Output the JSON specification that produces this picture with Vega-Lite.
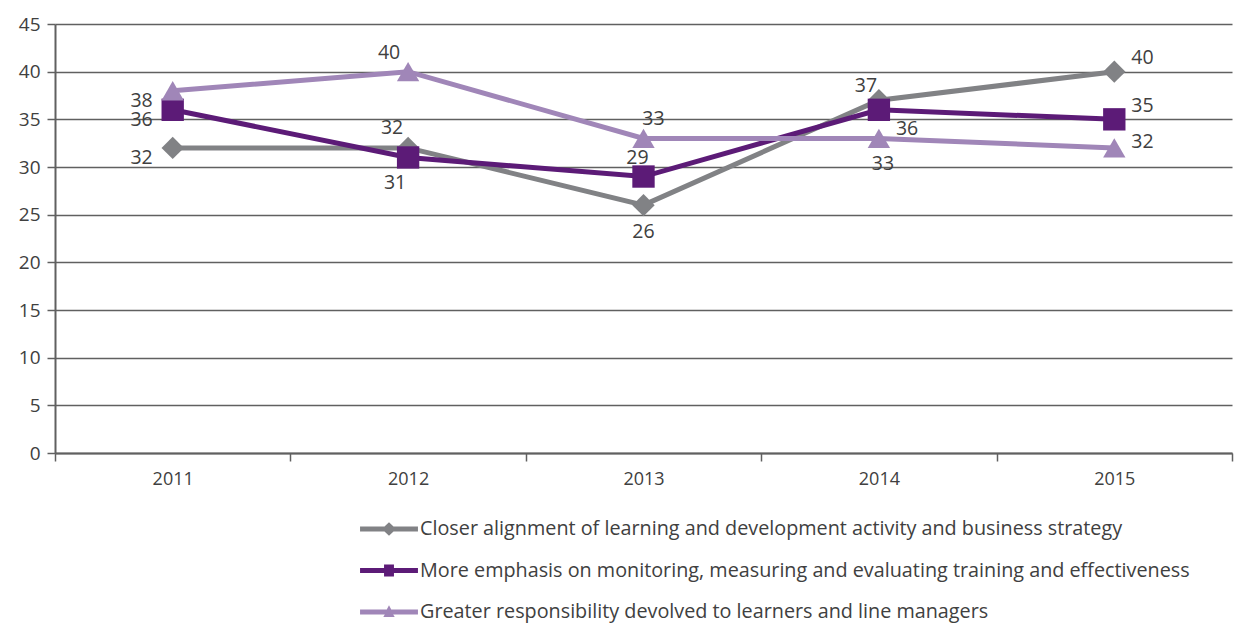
{
  "$schema": "https://vega.github.io/schema/vega-lite/v6.json",
  "width": 1177,
  "height": 429,
  "autosize": {"type": "none"},
  "padding": {"left": 55, "top": 24, "right": 2, "bottom": 171},
  "background": "white",
  "config": {
    "view": {"stroke": null},
    "font": "Open Sans",
    "axis": {"labelFont": "Open Sans", "labelColor": "#404040"},
    "legend": {"labelFont": "Open Sans"},
    "text": {"font": "Open Sans"}
  },
  "data": {
    "values": [
      {"series": "Closer alignment of learning and development activity and business strategy", "year": "2011", "value": 32},
      {"series": "Closer alignment of learning and development activity and business strategy", "year": "2012", "value": 32},
      {"series": "Closer alignment of learning and development activity and business strategy", "year": "2013", "value": 26},
      {"series": "Closer alignment of learning and development activity and business strategy", "year": "2014", "value": 37},
      {"series": "Closer alignment of learning and development activity and business strategy", "year": "2015", "value": 40},
      {"series": "More emphasis on monitoring, measuring and evaluating training and effectiveness", "year": "2011", "value": 36},
      {"series": "More emphasis on monitoring, measuring and evaluating training and effectiveness", "year": "2012", "value": 31},
      {"series": "More emphasis on monitoring, measuring and evaluating training and effectiveness", "year": "2013", "value": 29},
      {"series": "More emphasis on monitoring, measuring and evaluating training and effectiveness", "year": "2014", "value": 36},
      {"series": "More emphasis on monitoring, measuring and evaluating training and effectiveness", "year": "2015", "value": 35},
      {"series": "Greater responsibility devolved to learners and line managers", "year": "2011", "value": 38},
      {"series": "Greater responsibility devolved to learners and line managers", "year": "2012", "value": 40},
      {"series": "Greater responsibility devolved to learners and line managers", "year": "2013", "value": 33},
      {"series": "Greater responsibility devolved to learners and line managers", "year": "2014", "value": 33},
      {"series": "Greater responsibility devolved to learners and line managers", "year": "2015", "value": 32}
    ]
  },
  "encoding": {
    "x": {
      "field": "year", "type": "ordinal",
      "scale": {"paddingInner": 0, "paddingOuter": 0},
      "axis": {
        "title": null, "labelAngle": 0, "tickBand": "extent", "tickSize": 8,
        "tickColor": "#606060", "tickWidth": 1.5, "domainColor": "#606060", "domainWidth": 2,
        "labelFontSize": 18, "labelPadding": 9, "grid": false
      }
    },
    "y": {
      "field": "value", "type": "quantitative",
      "scale": {"domain": [0, 45], "nice": false},
      "axis": {
        "title": null, "values": [0, 5, 10, 15, 20, 25, 30, 35, 40, 45],
        "grid": true, "gridColor": "#606060", "gridWidth": 1.5,
        "domain": true, "domainColor": "#606060", "domainWidth": 2,
        "tickSize": 8, "tickColor": "#606060", "tickWidth": 1.5,
        "labelFontSize": 19, "labelPadding": 7
      }
    }
  },
  "resolve": {"scale": {"shape": "independent", "color": "independent"}},
  "layer": [
    {
      "transform": [{"filter": "false"}],
      "mark": {"type": "point", "filled": true, "opacity": 1, "size": 900, "strokeWidth": 0},
      "encoding": {
        "color": {
          "field": "series", "type": "nominal",
          "scale": {
            "domain": ["Closer alignment of learning and development activity and business strategy", "More emphasis on monitoring, measuring and evaluating training and effectiveness", "Greater responsibility devolved to learners and line managers"],
            "range": ["#818285", "#5c1b77", "#a086b8"]
          },
          "legend": {
            "title": null, "orient": "none", "legendX": 319, "legendY": 490,
            "direction": "vertical", "symbolSize": 900, "symbolStrokeWidth": 0,
            "labelFontSize": 19.8, "labelColor": "#404040", "labelOffset": 16,
            "rowPadding": 16.5, "labelLimit": 1000
          }
        },
        "shape": {
          "field": "series", "type": "nominal",
          "scale": {
            "domain": ["Closer alignment of learning and development activity and business strategy", "More emphasis on monitoring, measuring and evaluating training and effectiveness", "Greater responsibility devolved to learners and line managers"],
            "range": [
              "M-1.93,-0.17H-0.3L0,-0.45L0.3,-0.17H1.93V0.17H0.3L0,0.45L-0.3,0.17H-1.93Z",
              "M-1.93,-0.17H-0.33V-0.4H0.33V-0.17H1.93V0.17H0.33V0.4H-0.33V0.17H-1.93Z",
              "M-1.93,-0.17H-0.15L0,-0.45L0.15,-0.17H1.93V0.17H0.28L0.38,0.33H-0.38L-0.28,0.17H-1.93Z"
            ]
          },
          "legend": {
            "title": null, "orient": "none", "legendX": 319, "legendY": 490,
            "direction": "vertical", "symbolSize": 900, "symbolStrokeWidth": 0,
            "labelFontSize": 19.8, "labelColor": "#404040", "labelOffset": 16,
            "rowPadding": 16.5, "labelLimit": 1000
          }
        }
      }
    },
    {
      "mark": {"type": "line", "strokeWidth": 5},
      "encoding": {
        "color": {
          "field": "series", "type": "nominal", "legend": null,
          "scale": {
            "domain": ["Closer alignment of learning and development activity and business strategy", "More emphasis on monitoring, measuring and evaluating training and effectiveness", "Greater responsibility devolved to learners and line managers"],
            "range": ["#818285", "#5c1b77", "#a086b8"]
          }
        }
      }
    },
    {
      "mark": {"type": "point", "filled": true, "opacity": 1, "size": 500},
      "encoding": {
        "color": {
          "field": "series", "type": "nominal", "legend": null,
          "scale": {
            "domain": ["Closer alignment of learning and development activity and business strategy", "More emphasis on monitoring, measuring and evaluating training and effectiveness", "Greater responsibility devolved to learners and line managers"],
            "range": ["#818285", "#5c1b77", "#a086b8"]
          }
        },
        "shape": {
          "field": "series", "type": "nominal", "legend": null,
          "scale": {
            "domain": ["Closer alignment of learning and development activity and business strategy", "More emphasis on monitoring, measuring and evaluating training and effectiveness", "Greater responsibility devolved to learners and line managers"],
            "range": ["diamond", "square", "triangle-up"]
          }
        }
      }
    },
    {
      "transform": [{"filter": "datum.year === '2011'"}],
      "mark": {"type": "text", "fontSize": 19.5, "color": "#404040", "align": "right", "baseline": "middle", "dx": -20, "dy": 10},
      "encoding": {"text": {"field": "value", "type": "quantitative"}}
    },
    {
      "transform": [{"filter": "datum.year === '2015' && datum.value === 40"}],
      "mark": {"type": "text", "fontSize": 19.5, "color": "#404040", "align": "left", "baseline": "middle", "dx": 17, "dy": -14},
      "encoding": {"text": {"field": "value", "type": "quantitative"}}
    },
    {
      "transform": [{"filter": "datum.year === '2015' && datum.value === 35"}],
      "mark": {"type": "text", "fontSize": 19.5, "color": "#404040", "align": "left", "baseline": "middle", "dx": 17, "dy": -13},
      "encoding": {"text": {"field": "value", "type": "quantitative"}}
    },
    {
      "transform": [{"filter": "datum.year === '2015' && datum.value === 32"}],
      "mark": {"type": "text", "fontSize": 19.5, "color": "#404040", "align": "left", "baseline": "middle", "dx": 17, "dy": -6},
      "encoding": {"text": {"field": "value", "type": "quantitative"}}
    },
    {
      "transform": [{"filter": "datum.year === '2014' && datum.value === 36"}],
      "mark": {"type": "text", "fontSize": 19.5, "color": "#404040", "align": "left", "baseline": "middle", "dx": 17, "dy": 19},
      "encoding": {"text": {"field": "value", "type": "quantitative"}}
    },
    {
      "transform": [{"filter": "datum.year === '2014' && datum.value === 37"}],
      "mark": {"type": "text", "fontSize": 19.5, "color": "#404040", "align": "center", "baseline": "middle", "dx": -13, "dy": -14},
      "encoding": {"text": {"field": "value", "type": "quantitative"}}
    },
    {
      "transform": [{"filter": "datum.year === '2014' && datum.value === 33"}],
      "mark": {"type": "text", "fontSize": 19.5, "color": "#404040", "align": "center", "baseline": "middle", "dx": 4, "dy": 26},
      "encoding": {"text": {"field": "value", "type": "quantitative"}}
    },
    {
      "transform": [{"filter": "datum.year === '2013' && datum.value === 26"}],
      "mark": {"type": "text", "fontSize": 19.5, "color": "#404040", "align": "center", "baseline": "middle", "dx": 0, "dy": 27},
      "encoding": {"text": {"field": "value", "type": "quantitative"}}
    },
    {
      "transform": [{"filter": "datum.year === '2013' && datum.value === 29"}],
      "mark": {"type": "text", "fontSize": 19.5, "color": "#404040", "align": "center", "baseline": "middle", "dx": -6, "dy": -19},
      "encoding": {"text": {"field": "value", "type": "quantitative"}}
    },
    {
      "transform": [{"filter": "datum.year === '2013' && datum.value === 33"}],
      "mark": {"type": "text", "fontSize": 19.5, "color": "#404040", "align": "center", "baseline": "middle", "dx": 10, "dy": -19},
      "encoding": {"text": {"field": "value", "type": "quantitative"}}
    },
    {
      "transform": [{"filter": "datum.year === '2012' && datum.value === 32"}],
      "mark": {"type": "text", "fontSize": 19.5, "color": "#404040", "align": "center", "baseline": "middle", "dx": -16, "dy": -20},
      "encoding": {"text": {"field": "value", "type": "quantitative"}}
    },
    {
      "transform": [{"filter": "datum.year === '2012' && datum.value === 31"}],
      "mark": {"type": "text", "fontSize": 19.5, "color": "#404040", "align": "center", "baseline": "middle", "dx": -13, "dy": 26},
      "encoding": {"text": {"field": "value", "type": "quantitative"}}
    },
    {
      "transform": [{"filter": "datum.year === '2012' && datum.value === 40"}],
      "mark": {"type": "text", "fontSize": 19.5, "color": "#404040", "align": "center", "baseline": "middle", "dx": -19, "dy": -19},
      "encoding": {"text": {"field": "value", "type": "quantitative"}}
    }
  ]
}
